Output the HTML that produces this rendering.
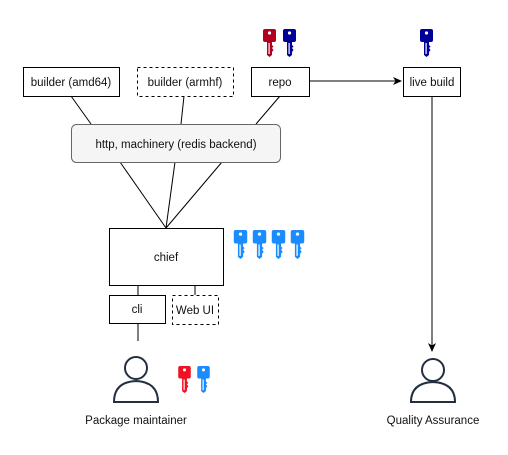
<!DOCTYPE html>
<html><head><style>
body{margin:0;background:#fff;}
svg text{font-family:"Liberation Sans",sans-serif;font-size:11.5px;fill:#111;}
</style></head><body>
<svg width="508" height="450" viewBox="0 0 508 450" xmlns="http://www.w3.org/2000/svg">
<defs>
<symbol id="k" viewBox="0 0 13 28">
<path d="M2 0H11Q13 0 13 2V11Q13 13 11 13H9V16L10.5 17.5L9 19L10.5 21L9 23V26L6.5 28L4 26V13H2Q0 13 0 11V2Q0 0 2 0Z"/>
<circle cx="6.5" cy="4" r="1.6" fill="#fff"/>
<rect x="5.5" y="14" width="1.2" height="11" fill="#fff"/>
</symbol>
<marker id="a" markerWidth="10" markerHeight="10" refX="8" refY="4" orient="auto" markerUnits="userSpaceOnUse"><path d="M0 0L9 4L0 8L2.5 4Z" fill="#000"/></marker>
</defs>
<g stroke="#000" stroke-width="1" fill="none">
<line x1="71" y1="96" x2="91" y2="124"/>
<line x1="184" y1="96" x2="181" y2="124"/>
<line x1="280" y1="96" x2="256" y2="124"/>
<line x1="120" y1="162" x2="166" y2="228"/>
<line x1="175" y1="162" x2="166" y2="228"/>
<line x1="222" y1="162" x2="166" y2="228"/>
<line x1="138" y1="285" x2="138" y2="295"/>
<line x1="195" y1="285" x2="195" y2="295"/>
<line x1="138" y1="323" x2="138" y2="341"/>
<line x1="309" y1="81" x2="401" y2="81" marker-end="url(#a)"/>
<line x1="432" y1="96" x2="432" y2="351" marker-end="url(#a)"/>
<rect x="23.5" y="67.5" width="96" height="29" fill="#fff"/>
<rect x="137.5" y="67.5" width="96" height="29" fill="#fff" stroke-dasharray="3,3"/>
<rect x="251.5" y="67.5" width="58" height="29" fill="#fff"/>
<rect x="403.5" y="67.5" width="57" height="29" fill="#fff"/>
<rect x="71.5" y="124.5" width="209" height="38" rx="5" fill="#f5f5f5" stroke="#666"/>
<rect x="109.5" y="228.5" width="114" height="57" fill="#fff"/>
<rect x="109.5" y="295.5" width="56" height="28" fill="#fff"/>
<rect x="172.5" y="295.5" width="46" height="29" fill="#fff" stroke-dasharray="3,3"/>
</g>
<g stroke="#232f3e" stroke-width="2" fill="#fff">
<circle cx="136" cy="368" r="11"/>
<path d="M114 402Q114 382 136 381Q158 382 158 402Z"/>
<circle cx="433" cy="370" r="11"/>
<path d="M411 402Q411 383 433 382Q455 383 455 402Z"/>
</g>
<text x="71" y="86" text-anchor="middle">builder (amd64)</text>
<text x="185" y="86" text-anchor="middle">builder (armhf)</text>
<text x="280" y="86" text-anchor="middle">repo</text>
<text x="432" y="86" text-anchor="middle">live build</text>
<text x="176" y="148" text-anchor="middle" fill="#333">http, machinery (redis backend)</text>
<text x="166" y="261" text-anchor="middle">chief</text>
<text x="137" y="313" text-anchor="middle">cli</text>
<text x="195" y="314" text-anchor="middle">Web UI</text>
<text x="136" y="424" text-anchor="middle" font-size="11">Package maintainer</text>
<text x="433" y="424" text-anchor="middle" font-size="11">Quality Assurance</text>
<use href="#k" x="263" y="29" width="13" height="28" fill="#b3001e"/>
<use href="#k" x="283" y="29" width="13" height="28" fill="#000099"/>
<use href="#k" x="420" y="29" width="13" height="28" fill="#000099"/>
<use href="#k" x="233" y="230" width="15" height="29" fill="#1a8cff"/>
<use href="#k" x="252" y="230" width="15" height="29" fill="#1a8cff"/>
<use href="#k" x="271" y="230" width="15" height="29" fill="#1a8cff"/>
<use href="#k" x="290" y="230" width="15" height="29" fill="#1a8cff"/>
<use href="#k" x="178" y="366" width="13" height="27" fill="#ee1122"/>
<use href="#k" x="197" y="366" width="13" height="27" fill="#1a8cff"/>
</svg>
</body></html>
